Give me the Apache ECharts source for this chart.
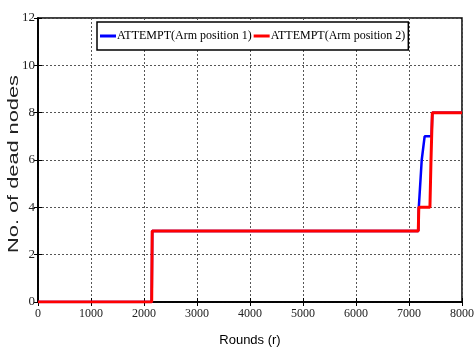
<!DOCTYPE html>
<html>
<head>
<meta charset="utf-8">
<script src="https://cdn.jsdelivr.net/npm/echarts@6/dist/echarts.min.js"></script>
<style>
html,body{margin:0;padding:0;background:#fff;}
#chart{width:474px;height:352px;}
</style>
</head>
<body>
<div id="chart"></div>
<script>
// Series data (rounds, dead nodes)
const seriesNames = ['ATTEMPT(Arm position 1)', 'ATTEMPT(Arm position 2)'];
const arm1Rounds = [0, 2145, 2155, 7175, 7185, 7215, 7240, 7265, 7295, 7425, 7440, 8000];
const arm1Dead   = [0, 0,    3,    3,    4,    4,    6,    6,    7,    7,    8,    8];
const arm2Rounds = [0, 2145, 2155, 7175, 7185, 7395, 7415, 7425, 7440, 8000];
const arm2Dead   = [0, 0,    3,    3,    4,    4,    6,    6,    8,    8];
const xMin = 0, xMax = 8000, xStep = 1000;
const yMin = 0, yMax = 12, yStep = 2;
const xAxisTitle = 'Rounds (r)';
const yAxisTitle = 'No. of dead nodes';

const pair = (xs, ys) => xs.map((x, i) => [x, ys[i]]);

const chart = echarts.init(document.getElementById('chart'), null, {renderer: 'canvas'});
const serifFont = "'Liberation Serif', 'Times New Roman', serif";
const sansFont = "'Liberation Sans', Arial, sans-serif";
const gridLine = {show: true, lineStyle: {color: '#555', type: [2, 2], width: 1}};

chart.setOption({
  animation: false,
  backgroundColor: '#fff',
  grid: {left: 38, right: 12, top: 18, bottom: 50, containLabel: false, outerBoundsMode: 'none',
         show: true, borderColor: '#000', borderWidth: 1.5, backgroundColor: 'transparent'},
  legend: {
    data: seriesNames,
    left: 97, top: 22,
    padding: [8, 3, 8, 3],
    itemGap: 2,
    itemWidth: 16, itemHeight: 3,
    icon: 'rect',
    borderColor: '#000', borderWidth: 1.5,
    backgroundColor: '#fff',
    textStyle: {fontFamily: serifFont, fontSize: 12, color: '#000', padding: [0, 0, 0, -4]}
  },
  xAxis: [{
    type: 'value', min: xMin, max: xMax, interval: xStep,
    name: xAxisTitle, nameLocation: 'middle', nameGap: 32,
    nameTextStyle: {fontFamily: sansFont, fontSize: 13, color: '#000'},
    axisLine: {show: true, lineStyle: {color: '#000', width: 1.5}},
    axisTick: {show: true, inside: true, length: 4, lineStyle: {color: '#000'}},
    axisLabel: {fontFamily: serifFont, fontSize: 12, color: '#222', margin: 6, formatter: v => String(v)},
    splitLine: gridLine
  }, {
    type: 'value', min: xMin, max: xMax, interval: xStep, position: 'top',
    axisLine: {show: true, lineStyle: {color: '#000', width: 1.5}},
    axisTick: {show: true, inside: true, length: 4, lineStyle: {color: '#000'}},
    axisLabel: {show: false}, splitLine: {show: false}
  }],
  yAxis: [{
    type: 'value', min: yMin, max: yMax, interval: yStep,
    axisLine: {show: true, lineStyle: {color: '#000', width: 1.5}},
    axisTick: {show: true, inside: true, length: 4, lineStyle: {color: '#000'}},
    axisLabel: {fontFamily: serifFont, fontSize: 13, color: '#222', margin: 3},
    splitLine: gridLine
  }, {
    type: 'value', min: yMin, max: yMax, interval: yStep, position: 'right',
    axisLine: {show: true, lineStyle: {color: '#000', width: 1.5}},
    axisTick: {show: true, inside: true, length: 4, lineStyle: {color: '#000'}},
    axisLabel: {show: false}, splitLine: {show: false}
  }],
  graphic: [{
    type: 'text',
    x: 14, y: 164,
    rotation: Math.PI / 2,
    scaleX: 1.45,
    style: {
      text: yAxisTitle,
      fontFamily: sansFont, fontSize: 15, fill: '#222',
      align: 'center', verticalAlign: 'middle'
    }
  }],
  series: [{
    name: seriesNames[0], type: 'line', showSymbol: false, symbol: 'none',
    color: '#0000ff', lineStyle: {color: '#0000ff', width: 2.5},
    data: pair(arm1Rounds, arm1Dead), z: 2
  }, {
    name: seriesNames[1], type: 'line', showSymbol: false, symbol: 'none',
    color: '#ff0000', lineStyle: {color: '#ff0000', width: 3},
    data: pair(arm2Rounds, arm2Dead), z: 3
  }]
});
</script>
</body>
</html>
